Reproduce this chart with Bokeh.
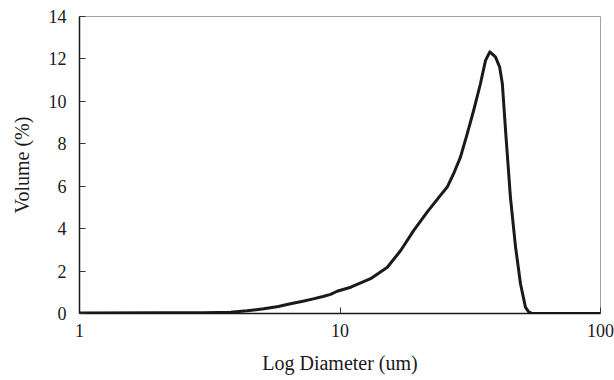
from bokeh.plotting import figure
from bokeh.models import Range1d, FixedTicker, BasicTickFormatter
from bokeh.embed import file_html
from bokeh.resources import INLINE

# Data
diameter_um = [1, 2, 3, 3.8, 4.4, 5.1, 5.8, 6.45, 7.2, 7.9, 8.6, 9.2, 9.75, 11.0, 13.1,
               15.2, 17.1, 19.2, 21.6, 24.3, 25.8, 27.3, 29.0, 30.8, 32.6, 34.6, 36.2,
               37.6, 39.5, 41.0, 42.0, 43.2, 45.1, 47.2, 49.3, 51.5, 53.0, 54.7, 100]
volume_pct = [0.02, 0.03, 0.04, 0.06, 0.13, 0.22, 0.33, 0.46, 0.58, 0.69, 0.8, 0.9, 1.05,
              1.24, 1.64, 2.18, 2.97, 3.92, 4.78, 5.57, 5.96, 6.59, 7.37, 8.48, 9.58,
              10.83, 11.93, 12.33, 12.1, 11.62, 10.83, 8.63, 5.49, 3.13, 1.4, 0.3, 0.08,
              0.0, 0.0]
x_ticks = [1, 10, 100]
y_ticks = [0, 2, 4, 6, 8, 10, 12, 14]

FONT = "Times New Roman"
TXT = "#1a1a1a"

p = figure(width=614, height=380, x_axis_type="log", output_backend="svg",
           toolbar_location=None,
           x_range=Range1d(1, 100), y_range=Range1d(0, 14),
           min_border_left=79, min_border_right=14, min_border_top=16,
           min_border_bottom=67)

p.line(diameter_um, volume_pct, line_color="#1a1a1a", line_width=3,
       line_join="round", line_cap="round")

p.xgrid.visible = False
p.ygrid.visible = False
p.background_fill_color = "white"
p.border_fill_color = "white"
p.outline_line_color = "#a0a0a0"
p.outline_line_width = 1

xa = p.xaxis[0]
xa.ticker = FixedTicker(ticks=x_ticks)
xa.formatter = BasicTickFormatter()
xa.axis_label = "Log Diameter (um)"

ya = p.yaxis[0]
ya.ticker = FixedTicker(ticks=y_ticks)
ya.formatter = BasicTickFormatter()
ya.axis_label = "Volume (%)"

for ax in (xa, ya):
    ax.axis_line_color = "#1a1a1a"
    ax.axis_line_width = 1.5
    ax.major_tick_in = 6
    ax.major_tick_out = 0
    ax.major_tick_line_color = "#333333"
    ax.minor_tick_line_color = None
    ax.major_label_text_font = FONT
    ax.major_label_text_font_size = "18px"
    ax.major_label_text_color = TXT
    ax.axis_label_text_font = FONT
    ax.axis_label_text_font_size = "20px"
    ax.axis_label_text_font_style = "normal"
    ax.axis_label_text_color = TXT

xa.major_label_standoff = 10
xa.axis_label_standoff = 12
ya.major_label_standoff = 13
ya.axis_label_standoff = 13

open("out.html", "w").write(file_html(p, INLINE))
